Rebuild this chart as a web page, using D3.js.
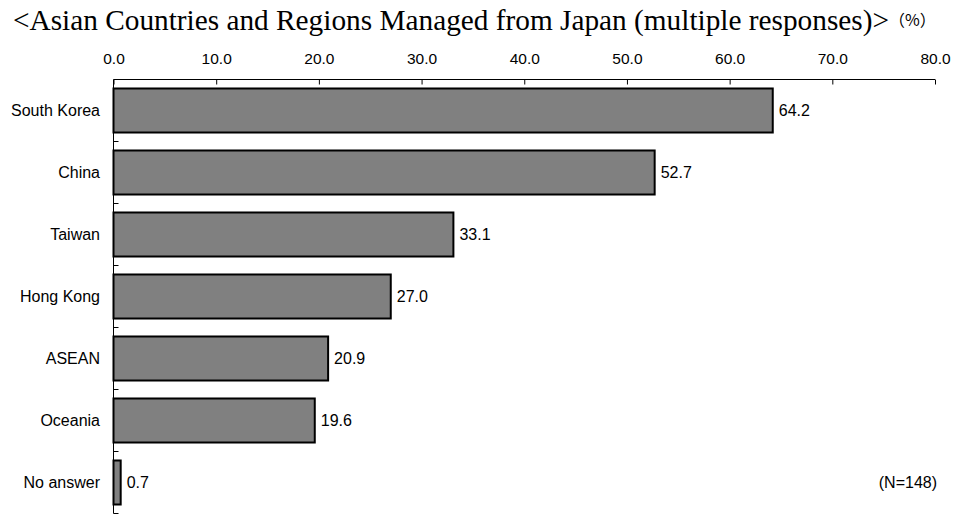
<!DOCTYPE html>
<html>
<head>
<meta charset="utf-8">
<script src="https://cdn.jsdelivr.net/npm/d3@7"></script>
<style>
  html, body { margin: 0; padding: 0; background: #fff; }
  svg { display: block; }
</style>
</head>
<body>
<svg id="chart" width="969" height="514"></svg>
<script>
// Asian countries and regions managed from Japan (multiple responses, %)
const categories = ["South Korea", "China", "Taiwan", "Hong Kong", "ASEAN", "Oceania", "No answer"];
const values = [64.2, 52.7, 33.1, 27.0, 20.9, 19.6, 0.7];
const xTicks = [0, 10, 20, 30, 40, 50, 60, 70, 80];
const titleText = "<Asian Countries and Regions Managed from Japan (multiple responses)>";
const unitText = "（%）";
const noteText = "(N=148)";

(function () {
const svg = d3.select("#chart");
const sans = "'Liberation Sans', Arial, sans-serif";
const serif = "'Liberation Serif', 'Times New Roman', serif";
const cjk = "'Noto Sans CJK JP', 'Liberation Sans', sans-serif";

const plotLeft = 113.5, plotRight = 935, plotTop = 79.5, plotBottom = 513.5;

const x = d3.scaleLinear().domain([0, 80]).range([plotLeft, plotRight]);
const y = d3.scaleBand().domain(categories).range([plotTop, plotBottom]).paddingInner(0.29).paddingOuter(0.145);

// Title
svg.append("text")
  .attr("x", 13).attr("y", 30)
  .attr("font-family", serif).attr("font-size", 29.3)
  .attr("fill", "#000")
  .text(titleText);

svg.append("text")
  .attr("x", 889).attr("y", 26)
  .attr("font-family", cjk).attr("font-size", 16)
  .attr("fill", "#000")
  .text(unitText);

// Top value axis
const xAxis = d3.axisTop(x).tickValues(xTicks).tickFormat(d3.format(".1f")).tickSize(-5).tickPadding(16);
const gx = svg.append("g").attr("transform", `translate(0,${plotTop})`).call(xAxis);
gx.select(".domain").attr("stroke", "#000").attr("stroke-width", 1).attr("d", `M${plotLeft},0H${plotRight}`);
gx.selectAll(".tick line").attr("stroke", "#000");
gx.selectAll(".tick text")
  .attr("font-family", sans).attr("font-size", 15.5).attr("fill", "#000")
  .attr("dy", 0)
  .attr("y", -16);

// Bars
svg.append("g").selectAll("rect")
  .data(categories)
  .join("rect")
  .attr("x", x(0))
  .attr("y", d => y(d))
  .attr("width", (d, i) => x(values[i]) - x(0))
  .attr("height", y.bandwidth())
  .attr("fill", "#808080")
  .attr("stroke", "#000")
  .attr("stroke-width", 2);

// Category axis with boundary ticks
const step = y.step();
const boundaries = d3.range(categories.length + 1).map(i => plotTop + i * step);
svg.append("line")
  .attr("x1", plotLeft).attr("x2", plotLeft).attr("y1", plotTop).attr("y2", plotBottom)
  .attr("stroke", "#000").attr("stroke-width", 1);
svg.append("g").selectAll("line")
  .data(boundaries.slice(1))
  .join("line")
  .attr("x1", plotLeft).attr("x2", plotLeft + 5)
  .attr("y1", d => d).attr("y2", d => d)
  .attr("stroke", "#000");

svg.append("g").selectAll("text")
  .data(categories)
  .join("text")
  .attr("x", 100)
  .attr("y", d => y(d) + y.bandwidth() / 2)
  .attr("dy", "0.35em")
  .attr("text-anchor", "end")
  .attr("font-family", sans).attr("font-size", 16)
  .attr("fill", "#000")
  .text(d => d);

// Value labels
svg.append("g").selectAll("text")
  .data(categories)
  .join("text")
  .attr("x", (d, i) => x(values[i]) + 6)
  .attr("y", d => y(d) + y.bandwidth() / 2)
  .attr("dy", "0.35em")
  .attr("font-family", sans).attr("font-size", 16)
  .attr("fill", "#000")
  .text((d, i) => values[i].toFixed(1));

// Sample size note
svg.append("text")
  .attr("x", 937).attr("y", y("No answer") + y.bandwidth() / 2)
  .attr("dy", "0.35em")
  .attr("text-anchor", "end")
  .attr("font-family", sans).attr("font-size", 16)
  .attr("fill", "#000")
  .text(noteText);
})();
</script>
</body>
</html>
